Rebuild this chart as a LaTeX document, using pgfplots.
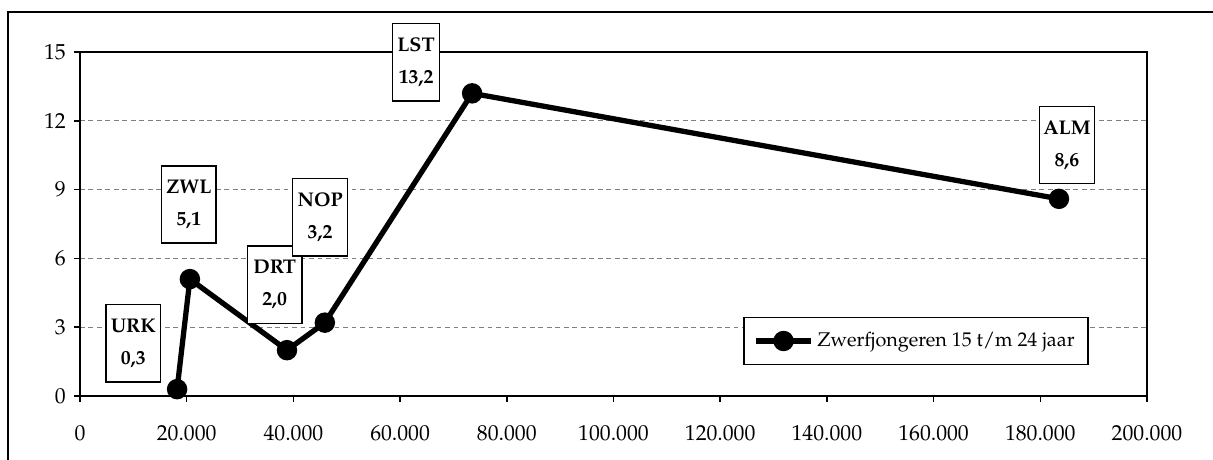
\documentclass[border=0pt]{standalone}
\usepackage[T1]{fontenc}
\usepackage{mathpazo}
\usepackage{pgfplots}
\pgfplotsset{compat=1.18}

\begin{document}
\begin{tikzpicture}
\begin{axis}[
    name=ax,
    scale only axis,
    width=565.5pt, height=182.3pt,
    xmin=0, xmax=200000,
    ymin=0, ymax=15,
    xtick={0,20000,40000,60000,80000,100000,120000,140000,160000,180000,200000},
    ytick={0,3,6,9,12,15},
    scaled x ticks=false,
    ticklabel style={font=\fontsize{11.5}{13}\selectfont},
    xticklabel style={/pgf/number format/fixed, /pgf/number format/1000 sep={.}, yshift=-9pt},
    tick align=outside,
    major tick length=3pt,
    xtick pos=left, ytick pos=left,
    axis line style={line width=0.8pt},
    tick style={line width=0.8pt, black},
    yticklabel style={xshift=-1pt},
    ymajorgrids=true,
    grid style={gray, line width=0.5pt, dash pattern=on 2.5pt off 2pt},
    clip=false,
    legend style={at={(0.7835,0.16)}, anchor=center, draw=black, line width=0.8pt,
        inner xsep=5pt, inner ysep=6pt, font=\fontsize{10.5}{12}\selectfont},
    legend cell align=left,
    legend image code/.code={
        \draw[line width=2.8pt] (0pt,0pt) -- (29pt,0pt);
        \fill (14.5pt,0pt) circle (4pt);
    },
]
% Zwerfjongeren per gemeente
\addplot[black, line width=2.8pt, mark=*, mark size=4pt]
    coordinates {
    (18200,0.3)(20600,5.1)(38800,2.0)(45900,3.2)(73500,13.2)(183500,8.6)
    };
\legend{Zwerfjongeren 15 t/m 24 jaar}

\tikzset{lbl/.style={draw=black, line width=0.8pt, fill=white, align=center,
    minimum width=29pt, minimum height=41pt, inner sep=2pt,
    font=\fontsize{10.5}{12}\selectfont\bfseries}}
\node[lbl] at (axis cs:10000,2.3) {URK\\[5pt]0,3};
\node[lbl] at (axis cs:20400,8.35) {ZWL\\[5pt]5,1};
\node[lbl] at (axis cs:36500,4.85) {DRT\\[5pt]2,0};
\node[lbl] at (axis cs:45000,7.8) {NOP\\[5pt]3,2};
\node[lbl, minimum width=25pt] at (axis cs:63000,14.55) {LST\\[5pt]13,2};
\node[lbl] at (axis cs:185000,10.95) {ALM\\[5pt]8,6};
\end{axis}
\pgfresetboundingbox
\path[use as bounding box] ([shift={(-42.4pt,-33.9pt)}]ax.south west) rectangle ++(642.9pt,243.8pt);
\draw[line width=1.1pt] ([shift={(-38.2pt,-45pt)}]ax.south west) -- ([shift={(-38.2pt,203.5pt)}]ax.south west) -- ([shift={(620pt,203.5pt)}]ax.south west);
\end{tikzpicture}
\end{document}
